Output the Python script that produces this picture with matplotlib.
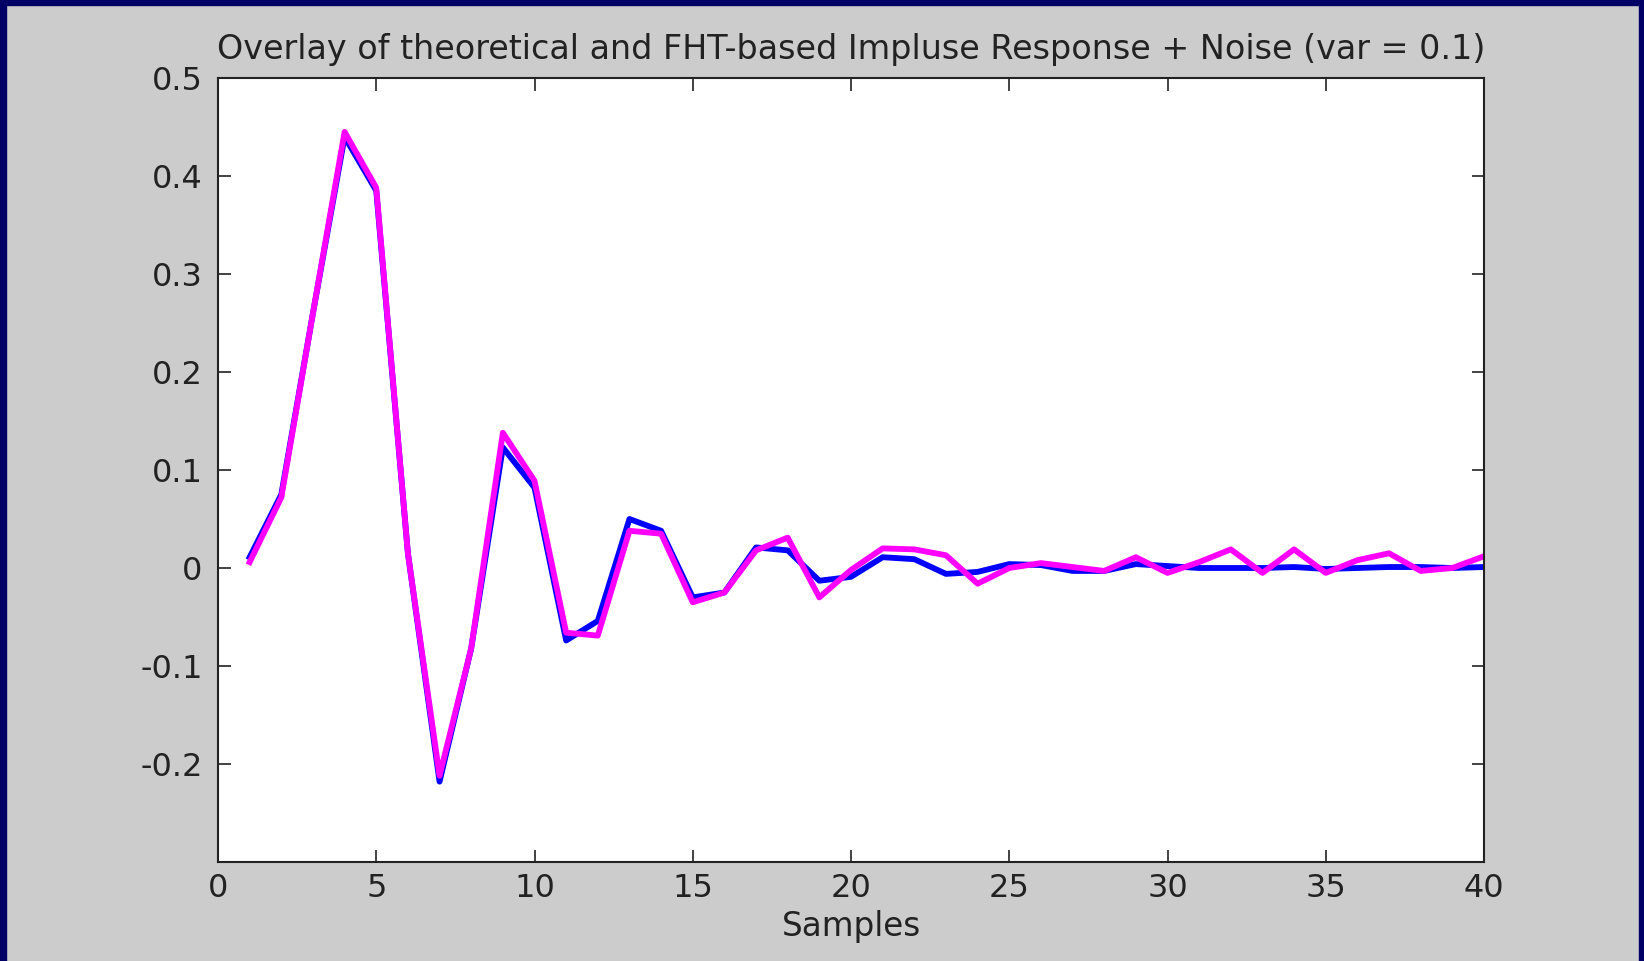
import matplotlib
matplotlib.use("Agg")
import matplotlib.pyplot as plt
import numpy as np
from matplotlib.patches import Rectangle

plt.rcParams['font.family'] = ['DejaVu Sans']

# impulse response samples 1..40
samples = np.arange(1, 41)
theoretical = [0.011, 0.075, 0.26, 0.44, 0.385, 0.015, -0.218, -0.082, 0.123, 0.082,
               -0.074, -0.054, 0.050, 0.038, -0.030, -0.025, 0.021, 0.018, -0.013, -0.009,
               0.011, 0.009, -0.006, -0.004, 0.004, 0.003, -0.003, -0.003, 0.004, 0.002,
               0.0, 0.0, 0.0, 0.001, -0.001, 0.0, 0.001, 0.001, 0.0, 0.001]
fht_noise = [0.006, 0.072, 0.26, 0.445, 0.388, 0.015, -0.212, -0.082, 0.138, 0.089,
             -0.066, -0.069, 0.038, 0.035, -0.035, -0.025, 0.018, 0.031, -0.030, -0.002,
             0.020, 0.019, 0.013, -0.016, 0.0, 0.005, 0.001, -0.003, 0.011, -0.005,
             0.006, 0.019, -0.005, 0.019, -0.005, 0.008, 0.015, -0.003, 0.0, 0.012]

fig = plt.figure(figsize=(16.44, 9.61), dpi=100, facecolor='#cccccc')

# navy frame (top, left, right)
fig.patches.append(Rectangle((0, 1 - 5/961), 1, 5/961, transform=fig.transFigure,
                             color='#000066', zorder=0))
fig.patches.append(Rectangle((0, 0), 6/1644, 1, transform=fig.transFigure,
                             color='#000066', zorder=0))
fig.patches.append(Rectangle((1 - 5/1644, 0), 5/1644, 1, transform=fig.transFigure,
                             color='#000066', zorder=0))

ax = fig.add_axes([218/1644, 1 - 862/961, 1266/1644, 784/961])
ax.set_facecolor('white')

ax.plot(samples, theoretical, color='#0000ff', linewidth=4.2)
ax.plot(samples, fht_noise, color='#ff00ff', linewidth=4.2)

ax.set_xlim(0, 40)
ax.set_ylim(-0.3, 0.5)
ax.set_xticks(np.arange(0, 41, 5))
ax.set_yticks(np.arange(-0.2, 0.51, 0.1))
ax.set_yticklabels(['-0.2', '-0.1', '0', '0.1', '0.2', '0.3', '0.4', '0.5'])

ax.tick_params(direction='in', length=9, width=1.2, top=True, right=True,
               labelsize=23, colors='#222222', pad=8)
ax.tick_params(axis='y', pad=11)
for s in ax.spines.values():
    s.set_linewidth(1.5)
    s.set_color('#222222')

ax.set_title('Overlay of theoretical and FHT-based Impluse Response + Noise (var = 0.1)',
             fontsize=24, pad=14, color='#222222')
ax.set_xlabel('Samples', fontsize=23.5, labelpad=4, color='#222222')

fig.savefig('out.png', dpi=100, facecolor=fig.get_facecolor())
